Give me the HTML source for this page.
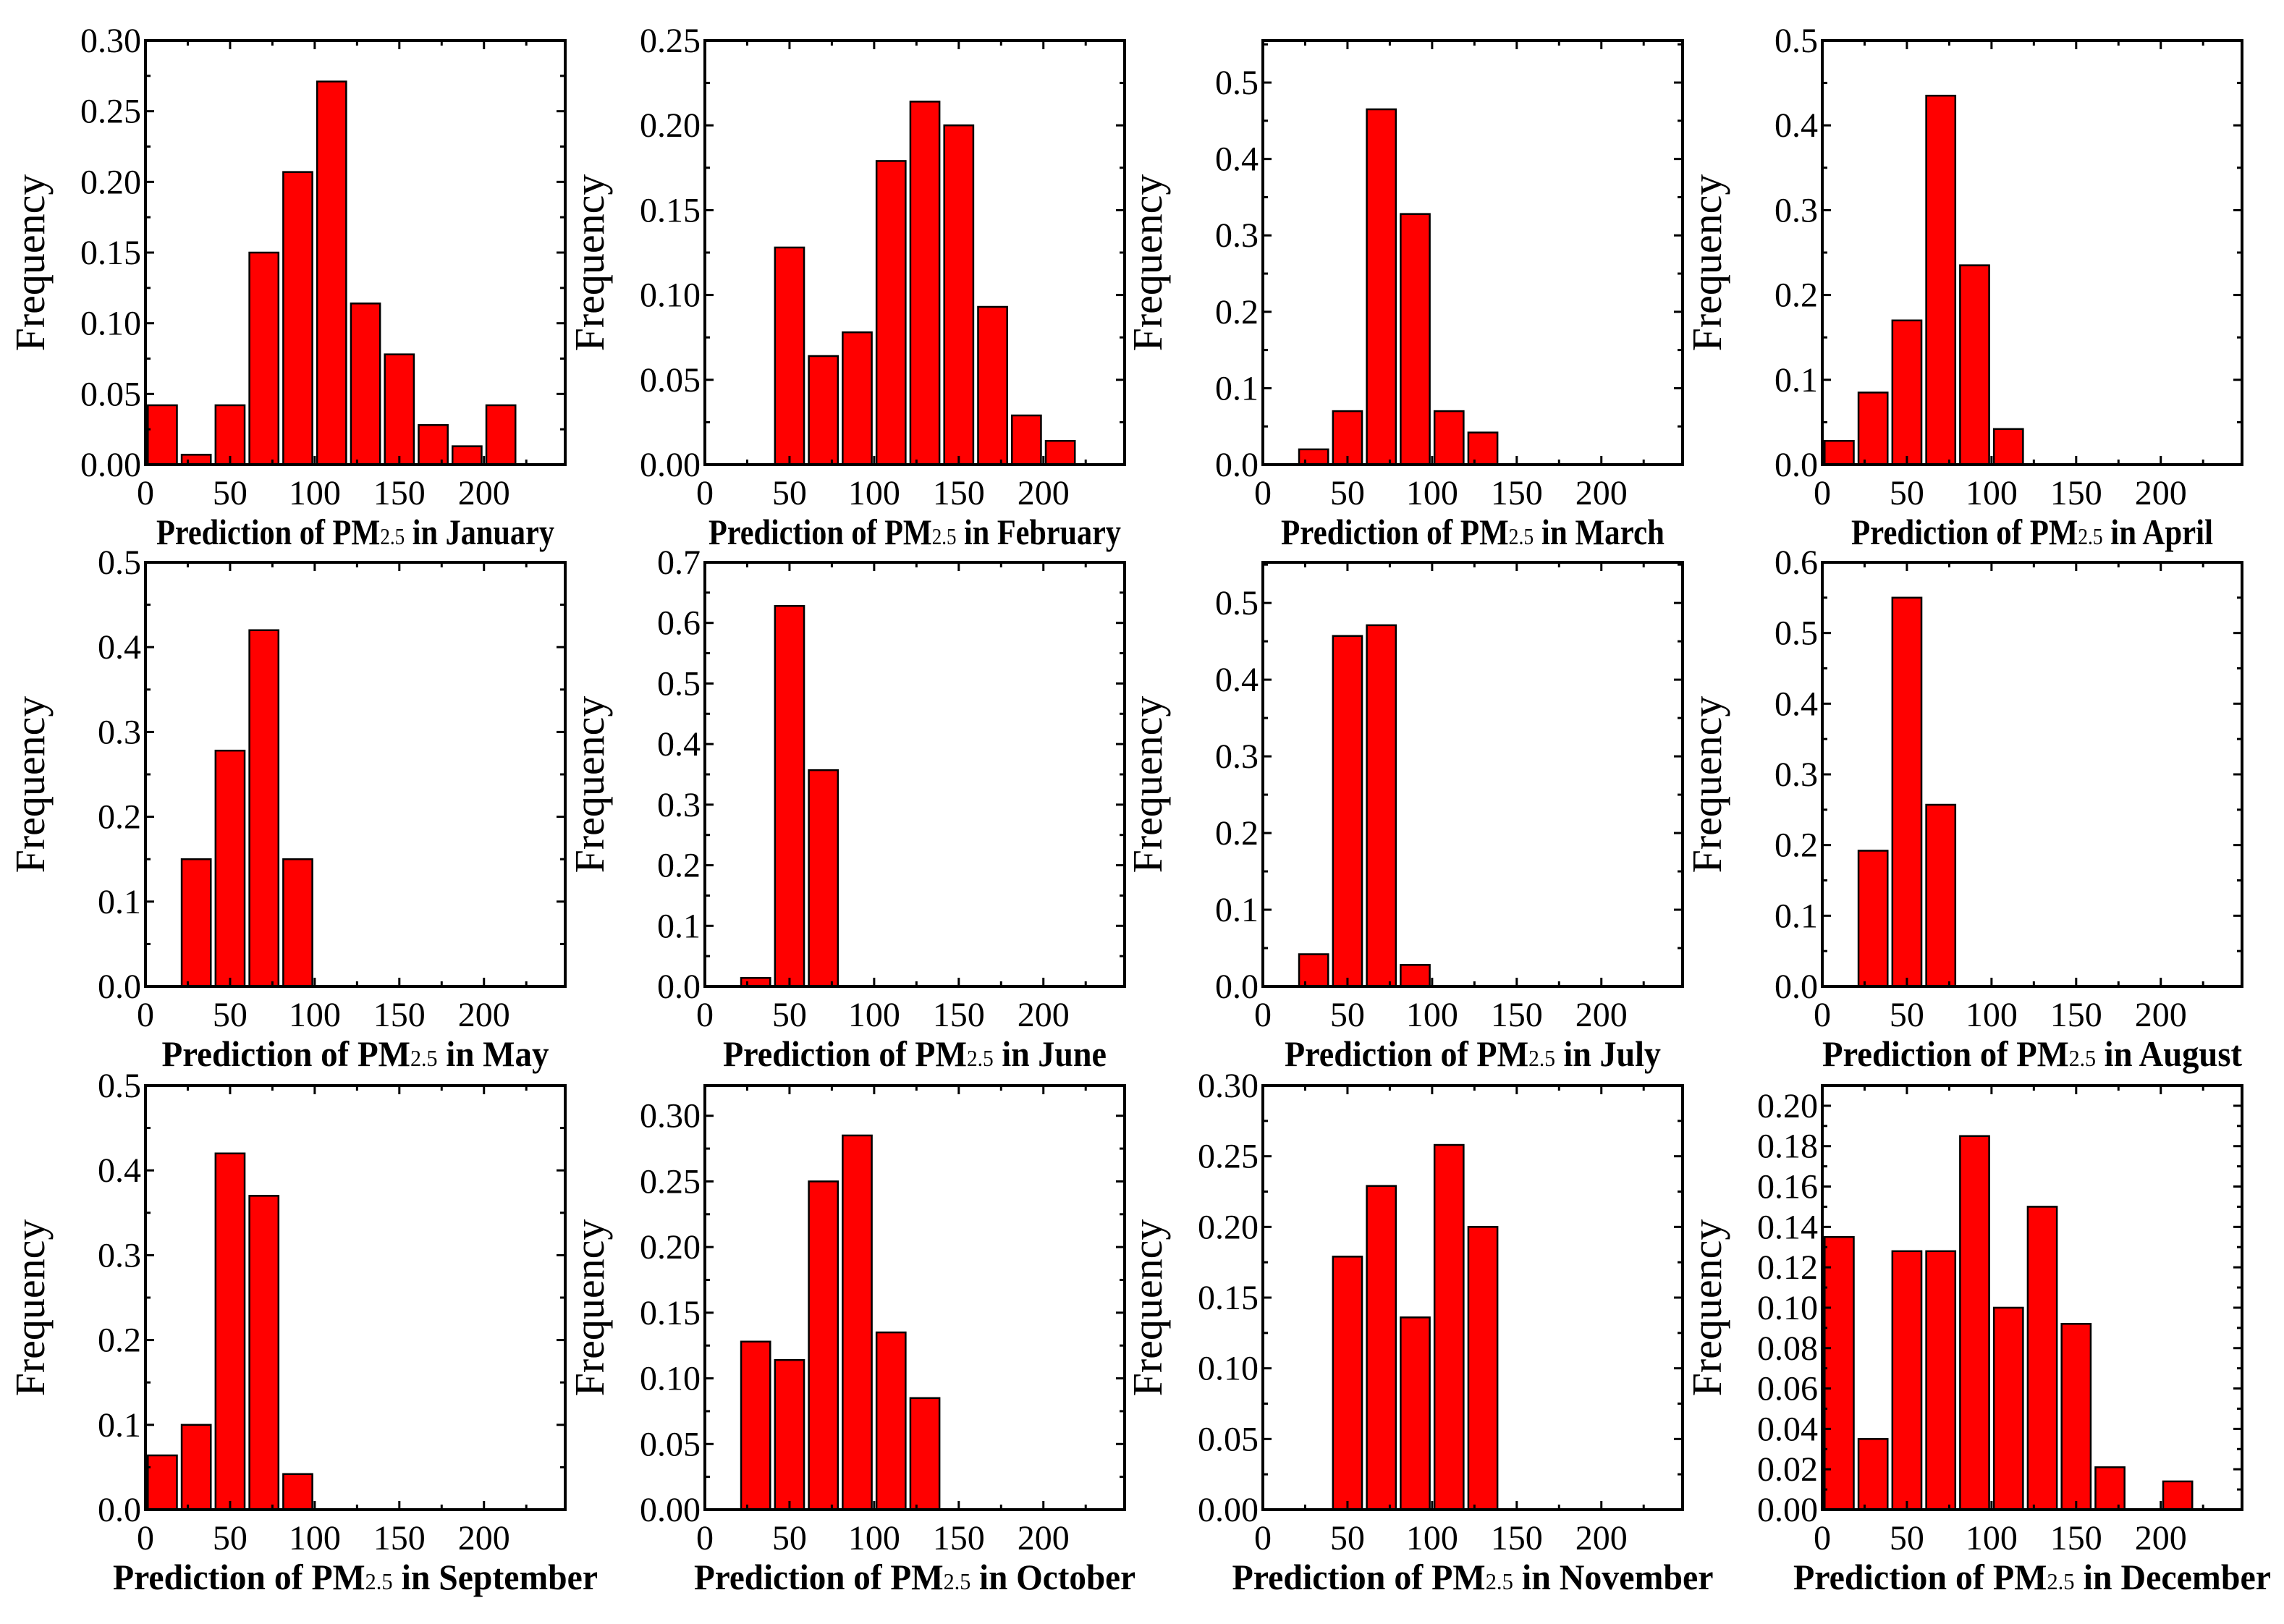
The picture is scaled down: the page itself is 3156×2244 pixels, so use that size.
<!DOCTYPE html>
<html><head><meta charset="utf-8"><style>
body{margin:0;background:#fff}
svg{display:block}
text{font-family:"Liberation Serif",serif;fill:#000}
</style></head><body>
<svg id="chart" width="3156" height="2244" viewBox="0 0 3156 2244" xmlns="http://www.w3.org/2000/svg"></svg>
<script>
const months = ["January","February","March","April","May","June","July","August","September","October","November","December"];
const binCenters = [10,30,50,70,90,110,130,150,170,190,210];
const janValues = [0.042,0.007,0.042,0.150,0.207,0.271,0.114,0.078,0.028,0.013,0.042];
const febValues = [0,0,0.128,0.064,0.078,0.179,0.214,0.200,0.093,0.029,0.014];
const marValues = [0,0.020,0.070,0.465,0.328,0.070,0.042,0,0,0,0];
const aprValues = [0.028,0.085,0.170,0.435,0.235,0.042,0,0,0,0,0];
const mayValues = [0,0.150,0.278,0.420,0.150,0,0,0,0,0,0];
const junValues = [0,0.014,0.628,0.357,0,0,0,0,0,0,0];
const julValues = [0,0.042,0.457,0.471,0.028,0,0,0,0,0,0];
const augValues = [0,0.192,0.550,0.257,0,0,0,0,0,0,0];
const sepValues = [0.064,0.100,0.420,0.370,0.042,0,0,0,0,0,0];
const octValues = [0,0.128,0.114,0.250,0.285,0.135,0.085,0,0,0,0];
const novValues = [0,0,0.179,0.229,0.136,0.258,0.200,0,0,0,0];
const decValues = [0.135,0.035,0.128,0.128,0.185,0.100,0.150,0.092,0.021,0,0.014];
const yMaxes = [0.30,0.25,0.555,0.5,0.5,0.7,0.553,0.6,0.5,0.323,0.30,0.21];
const yMajorSteps = [0.05,0.05,0.1,0.1,0.1,0.1,0.1,0.1,0.1,0.05,0.05,0.02];
const yDecimals = [2,2,1,1,1,1,1,1,1,2,2,2];
const xTickLabels = [0,50,100,150,200];
const allValues = [janValues,febValues,marValues,aprValues,mayValues,junValues,julValues,augValues,sepValues,octValues,novValues,decValues];

const NS="http://www.w3.org/2000/svg";
const svg=document.getElementById('chart');
function mk(tag,attrs,parent){const e=document.createElementNS(NS,tag);for(const k in attrs)e.setAttribute(k,attrs[k]);parent.appendChild(e);return e;}
const colX=[201,974,1745,2518], rowY=[56,777,1500], W=580, H=586, XMAX=248;

months.forEach((m,i)=>{
  const L=colX[i%4], T=rowY[Math.floor(i/4)], B=T+H, R=L+W;
  const ymax=yMaxes[i];
  const xs=v=>L+v/XMAX*W, ys=v=>B-v/ymax*H;
  const g=mk('g',{},svg);
  
  
  allValues[i].forEach((v,j)=>{
    if(v<=0)return;
    const c=binCenters[j];
    const r=mk('rect',{x:xs(c-8.6),y:ys(v),width:xs(c+8.6)-xs(c-8.6),height:B-ys(v),fill:'#ff0000',stroke:'#000','stroke-width':2.5},g);
    
    
  });
  const f=mk('rect',{x:L,y:T,width:W,height:H,fill:'none',stroke:'#000','stroke-width':4},g);
  
  
  for(let v=0;v<=XMAX;v+=25){
    const x=xs(v), len=(v%50===0)?12:7;
    mk('line',{x1:x,y1:B,x2:x,y2:B-len,stroke:'#000','stroke-width':3},g);
    mk('line',{x1:x,y1:T,x2:x,y2:T+len,stroke:'#000','stroke-width':3},g);
  }
  xTickLabels.forEach(v=>{
    const t=mk('text',{x:xs(v),y:B+55,'font-size':48,'text-anchor':'middle'},g);
    t.textContent=v;
    
    
  });
  const st=yMajorSteps[i], n=Math.floor(ymax/st+1e-6);
  for(let k=0;k<=n;k++){
    const v=k*st, y=ys(v);
    mk('line',{x1:L,y1:y,x2:L+12,y2:y,stroke:'#000','stroke-width':3},g);
    mk('line',{x1:R,y1:y,x2:R-12,y2:y,stroke:'#000','stroke-width':3},g);
    if(v+st/2<=ymax){const ym=ys(v+st/2);
      mk('line',{x1:L,y1:ym,x2:L+7,y2:ym,stroke:'#000','stroke-width':3},g);
      mk('line',{x1:R,y1:ym,x2:R-7,y2:ym,stroke:'#000','stroke-width':3},g);}
    const t=mk('text',{x:L-6,y:y+16,'font-size':48,'text-anchor':'end'},g);
    t.textContent=v.toFixed(yDecimals[i]);
    
    
  }
  const yl=mk('text',{x:0,y:0,'font-size':58,'text-anchor':'middle',transform:`translate(${L-140},${T+H/2+14}) rotate(-90)`},g);
  yl.textContent='Frequency';
  
  
  const xl=mk('text',{x:L+W/2,y:B+110,'font-size':50,'font-weight':'bold','text-anchor':'middle'},g);
  
  
  const t1=mk('tspan',{},xl); t1.textContent='Prediction of PM';
  const t2=mk('tspan',{'font-size':32,'font-weight':'normal'},xl); t2.textContent='2.5';
  const t3=mk('tspan',{},xl); t3.textContent=' in '+m;
  const wanted={January:550,February:570,March:530,April:500,May:535,June:530,July:520,August:580,September:670,October:610,November:665,December:660}[m];
  xl.setAttribute('textLength',wanted);
  xl.setAttribute('lengthAdjust','spacingAndGlyphs');
});
</script>
</body></html>
